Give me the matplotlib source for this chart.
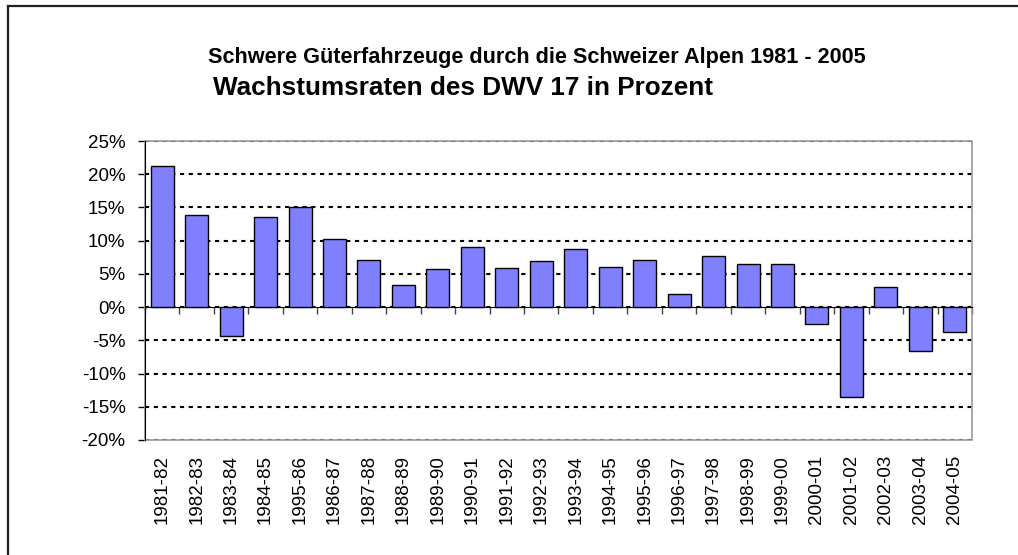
import matplotlib
matplotlib.use('Agg')
import matplotlib.pyplot as plt
from matplotlib.patches import Rectangle
from matplotlib.lines import Line2D
import numpy as np

# data
perioden = ['1981-82', '1982-83', '1983-84', '1984-85', '1995-86', '1986-87',
            '1987-88', '1988-89', '1989-90', '1990-91', '1991-92', '1992-93',
            '1993-94', '1994-95', '1995-96', '1996-97', '1997-98', '1998-99',
            '1999-00', '2000-01', '2001-02', '2002-03', '2003-04', '2004-05']
wachstum = [21.2, 13.8, -4.3, 13.6, 15.1, 10.2, 7.1, 3.4, 5.7, 9.1, 5.9, 6.9,
            8.7, 6.1, 7.1, 2.0, 7.7, 6.5, 6.5, -2.5, -13.5, 3.1, -6.6, -3.75]
y_ticks = [25, 20, 15, 10, 5, 0, -5, -10, -15, -20]

plt.rcParams['font.family'] = ['Liberation Sans', 'DejaVu Sans']

fig = plt.figure(figsize=(10.18, 5.55), dpi=100)
ax = fig.add_axes([145 / 1018, 1 - 440 / 555, 827 / 1018, 299 / 555])

x_pos = np.arange(len(perioden))
ax.bar(x_pos, wachstum, width=0.667, color='#8080FF', edgecolor='black',
       linewidth=1, zorder=3)

ax.set_xlim(-0.5, len(perioden) - 0.5)
ax.set_ylim(-20, 25)

# gridlines
ax.set_yticks(y_ticks)
ax.set_yticklabels(['{:d}%'.format(v) for v in y_ticks], fontsize=13.5)
ax.yaxis.grid(True, color='black', linestyle=(0, (2, 2.2)), linewidth=1.5)
ax.set_axisbelow(True)
ax.tick_params(axis='y', direction='out', length=5, width=1, pad=9)

# category axis at zero
ax.spines['bottom'].set_position(('data', 0))
ax.spines['bottom'].set_color('black')
ax.spines['left'].set_color('black')
ax.spines['top'].set_visible(False)
ax.spines['right'].set_visible(False)
ax.set_xticks(np.arange(-0.5, len(perioden), 1))
ax.set_xticklabels([])
ax.tick_params(axis='x', direction='out', length=5, width=1, color='#444444')

ax.add_patch(Rectangle((0, 0), 1, 1, transform=ax.transAxes, fill=False,
                       edgecolor='#999999', linewidth=1.2, clip_on=False, zorder=1))

trans = matplotlib.transforms.blended_transform_factory(ax.transData, ax.transAxes)
for i, lab in enumerate(perioden):
    ax.text(i, -0.05, lab, transform=trans, rotation=90, ha='center', va='top',
            fontsize=13.5)

# titles
fig.text(208 / 1018, 1 - 57 / 555, 'Schwere Güterfahrzeuge durch die Schweizer Alpen 1981 - 2005',
         fontsize=15.6, fontweight='bold', ha='left', va='center')
fig.text(213 / 1018, 1 - 88 / 555, 'Wachstumsraten des DWV 17 in Prozent',
         fontsize=18.8, fontweight='bold', ha='left', va='center')

# frame: only top and left edge visible (cropped chart)
fig.add_artist(Line2D([8 / 1018, 1], [1 - 6 / 555, 1 - 6 / 555],
                      transform=fig.transFigure, color='#222222', linewidth=1.6))
fig.add_artist(Line2D([8 / 1018, 8 / 1018], [0, 1 - 6 / 555],
                      transform=fig.transFigure, color='#222222', linewidth=1.6))

plt.savefig('out.png', dpi=100)
plt.close()
